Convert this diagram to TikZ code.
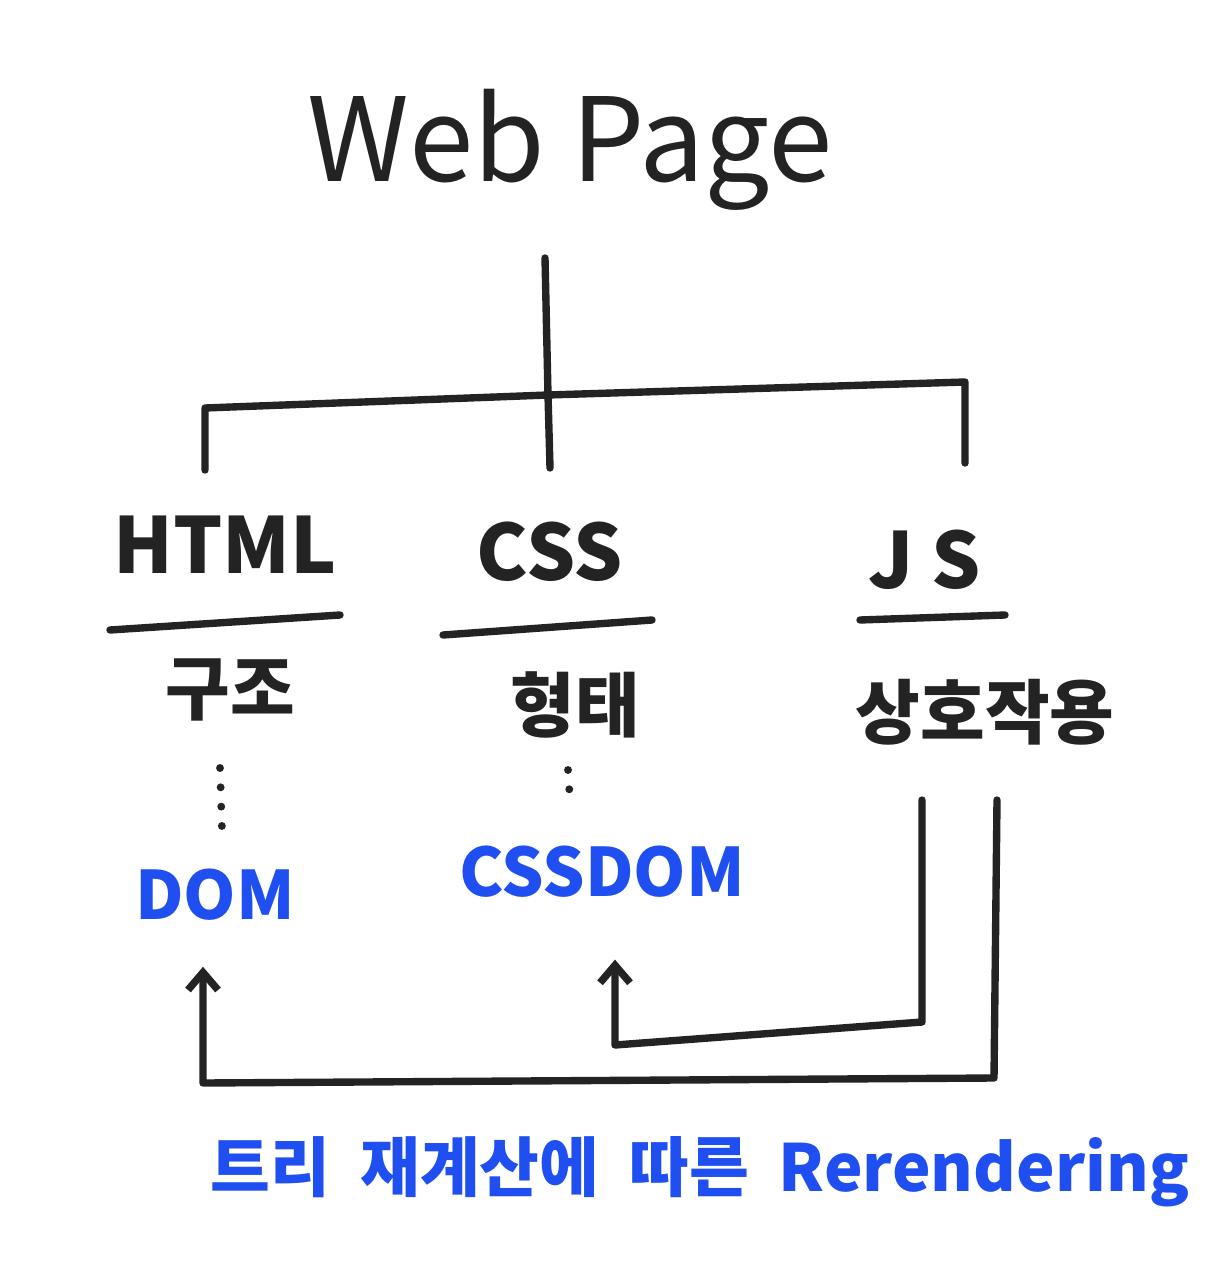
\documentclass[tikz,border=0pt]{standalone}
\usepackage{fontspec}
\setmainfont{Noto Sans CJK KR}
\usetikzlibrary{arrows.meta,positioning}
\definecolor{ink}{HTML}{232323}
\definecolor{penblue}{HTML}{1F4FF0}

\begin{document}
\begin{tikzpicture}[
    x=0.02cm, y=-0.02cm,
    line/.style={draw=ink, line width=4.2pt, line cap=round, line join=round},
    arr/.style={line, -{Straight Barb[length=3.5mm, width=6mm, line width=4.2pt]}},
    dots/.style={draw=ink, line width=4.5pt, line cap=round, dash pattern=on 0pt off 11pt},
    lang/.style={text=ink, font=\fontsize{44}{48}\selectfont\bfseries, inner sep=2pt},
    role/.style={text=ink, font=\fontsize{40}{44}\selectfont\bfseries, inner sep=2pt},
    model/.style={text=penblue, font=\fontsize{38}{42}\selectfont\bfseries, inner sep=2pt},
    note/.style={text=penblue, font=\fontsize{37}{40}\selectfont\bfseries, inner sep=2pt}
]
\useasboundingbox[fill=white] (0,0) rectangle (1221,1280);

% title
\node[text=ink, font=\fontsize{66}{72}\selectfont, inner sep=0pt] (page) at (570,150) {Web Page};

% tree
\coordinate (top) at (545,258);
\coordinate (mid) at (548,395);
\coordinate (lc) at (205,408);
\coordinate (rc) at (965,382);
\coordinate (lb) at (205,470);
\coordinate (mb) at (550,468);
\coordinate (rb) at (965,463);
\draw[line] (top) -- (mid) -- (mb);
\draw[line] (lb) -- (lc) -- (mid) -- (rc) -- (rb);

% languages
\node[lang] (html) at (225,545) {HTML};
\node[lang] (css) at (550,552) {CSS};
\node[lang] (js) at (925,560) {J\hspace{10pt}S};
\draw[line] (110,630) -- (340,615);
\draw[line] (443,635) -- (652,620);
\draw[line] (860,620) -- (1005,615);

\node[role] (struct) at (230,690) {구조};
\node[role] (shape) at (575,705) {형태};
\node[role] (inter) at (985,712) {상호작용};

% models
\node[model] (dom) at (215,895) {DOM};
\node[model] (cssom) at (602,872) {CSSDOM};
\draw[dots] (220,768) -- (222,830);
\draw[dots] (568,770) -- (570,800);

% rerendering loops
\coordinate (j1) at (922,800);
\coordinate (j1b) at (922,1022);
\coordinate (c1) at (615,1045);
\coordinate (j2) at (997,800);
\coordinate (j2b) at (994,1078);
\coordinate (d1) at (203,1083);
\draw[arr] (j1) -- (j1b) -- (c1) -- ([yshift=-33pt]cssom.south -| c1);
\draw[arr] (j2) -- (j2b) -- (d1) -- ([yshift=-24pt]dom.south -| d1);

\node[note] (rerender) at (700,1172) {트리\ \ 재계산에\ \ 따른\ \ Rerendering};
\end{tikzpicture}
\end{document}
